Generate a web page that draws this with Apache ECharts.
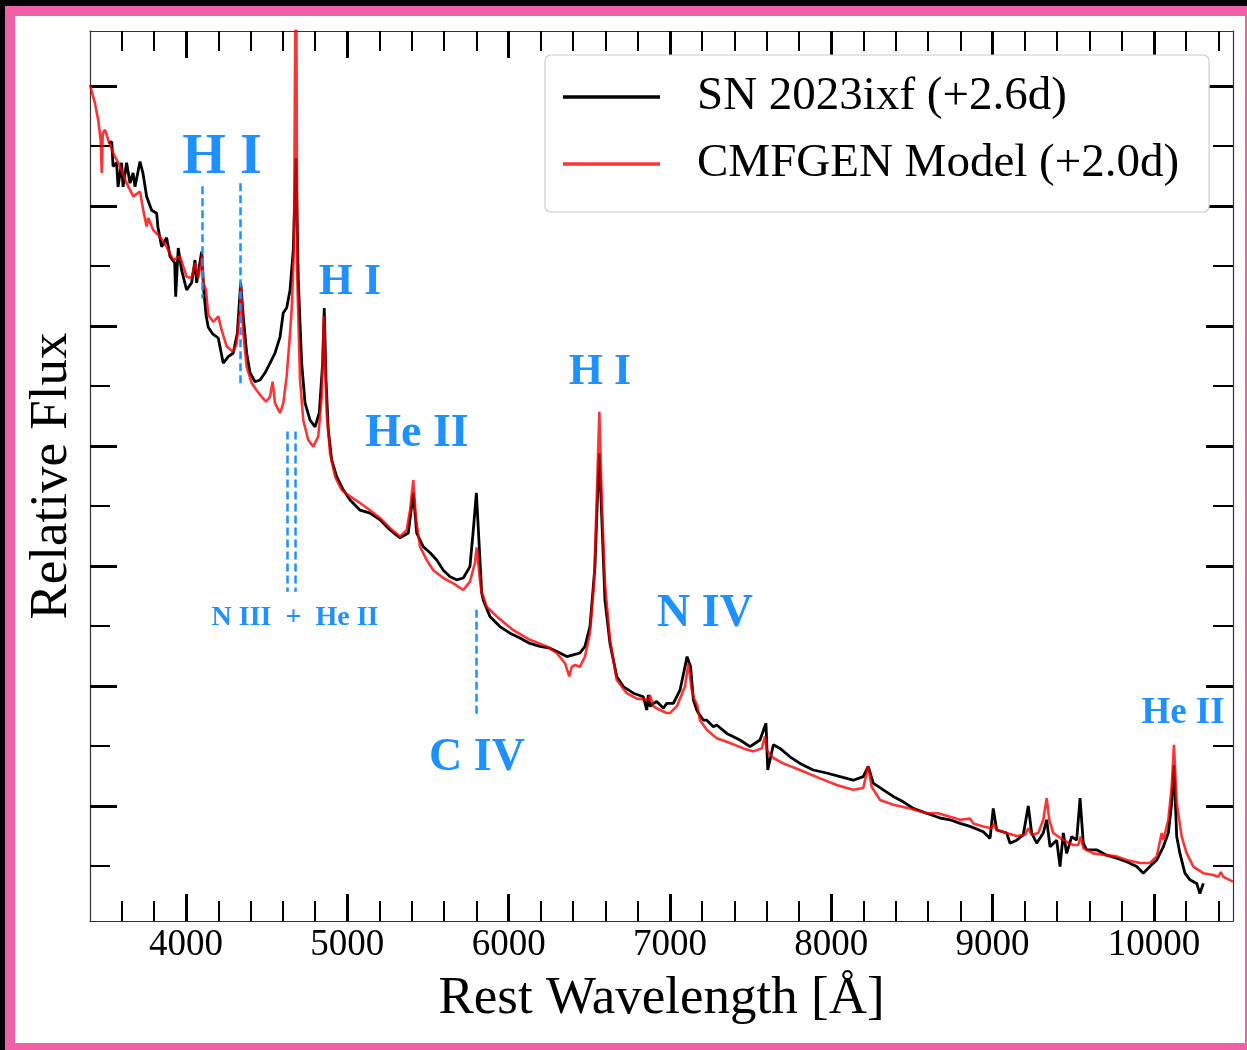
<!DOCTYPE html>
<html>
<head>
<meta charset="utf-8">
<script src="https://cdn.jsdelivr.net/npm/echarts@6/dist/echarts.min.js"></script>
<style>
  html, body { margin:0; padding:0; background:#000; width:1247px; height:1050px; overflow:hidden; }
  #pink { position:absolute; left:5px; top:6px; width:1242px; height:1044px; background:#EF60A6; }
  #paper { position:absolute; left:15px; top:16px; width:1230px; height:1027px; background:#fff; }
  #chart { position:absolute; left:0; top:0; width:1247px; height:1050px; }
</style>
</head>
<body>
<div id="pink"></div>
<div id="paper"></div>
<div id="chart"></div>
<script>
// ---- axis ticks ----
const wavelengthTicks = [4000, 5000, 6000, 7000, 8000, 9000, 10000];
const wavelengthMinorTicks = [3600, 3800, 4200, 4400, 4600, 4800, 5200, 5400, 5600, 5800,
  6200, 6400, 6600, 6800, 7200, 7400, 7600, 7800, 8200, 8400, 8600, 8800,
  9200, 9400, 9600, 9800, 10200, 10400];
const fluxMajorTicks = [1, 3, 5, 7, 9, 11, 13];
const fluxMinorTicks = [0, 2, 4, 6, 8, 10, 12];

// ---- SN 2023ixf (+2.6d) observed spectrum ----
const snWave = [3518,3540,3548,3570,3579,3601,3610,3632,3653,3672,3684,3715,3733,3756,3787,3818,3826,3849,3880,3901,
  3930,3936,3952,3973,4004,4035,4056,4066,4097,4110,4125,4138,4165,4200,4231,4262,4293,4318,4339,4355,
  4376,4397,4428,4459,4490,4521,4552,4583,4603,4624,4645,4665,4682,4696,4717,4738,4769,4800,4826,4847,
  4857,4868,4882,4903,4934,4975,5017,5079,5141,5203,5265,5327,5378,5409,5430,5471,5513,5554,5595,5637,
  5678,5719,5760,5781,5800,5818,5833,5843,5884,5946,6008,6070,6132,6194,6256,6318,6360,6401,6442,6473,
  6504,6535,6550,6562,6577,6597,6628,6670,6711,6773,6835,6856,6866,6876,6897,6918,6959,6980,7021,7062,
  7093,7106,7128,7145,7166,7176,7207,7228,7269,7290,7352,7434,7496,7558,7595,7606,7641,7682,7744,7806,
  7888,7971,8054,8136,8198,8229,8260,8322,8384,8446,8508,8591,8674,8736,8798,8860,8942,8984,9004,9025,
  9087,9108,9149,9190,9221,9242,9273,9314,9335,9356,9397,9418,9438,9459,9490,9521,9542,9562,9583,9645,
  9707,9769,9831,9893,9934,9975,10017,10058,10089,10110,10124,10141,10161,10192,10223,10265,10285,10306];
const snFlux = [12.05,12.07,11.66,11.72,11.32,11.72,11.32,11.72,11.38,11.55,11.32,11.74,11.55,11.16,10.93,10.88,10.65,10.32,10.47,10.16,
  10.05,9.49,10.3,9.93,9.6,9.72,10.1,9.72,10.24,9.6,9.17,8.98,8.87,8.8,8.38,8.49,8.55,8.88,9.72,9.16,
  8.55,8.22,8.07,8.1,8.22,8.38,8.55,8.82,9.22,9.3,9.6,10.27,11.8,9.77,8.38,7.72,7.43,7.32,7.55,8.38,
  9.3,8.1,7.27,6.77,6.49,6.27,6.1,5.93,5.88,5.77,5.6,5.47,5.55,6.22,5.55,5.32,5.22,5.1,4.93,4.82,
  4.77,4.8,4.99,5.6,6.22,5.32,4.55,4.43,4.16,3.99,3.88,3.8,3.71,3.66,3.63,3.55,3.49,3.52,3.55,3.66,
  3.99,4.99,6.1,6.88,5.82,4.43,3.71,3.16,2.99,2.88,2.82,2.6,2.85,2.66,2.71,2.74,2.63,2.71,2.71,2.93,
  3.32,3.49,3.32,2.77,2.6,2.55,2.43,2.43,2.32,2.35,2.21,2.1,1.99,2.1,2.38,1.6,2.02,1.96,1.82,1.71,
  1.6,1.55,1.49,1.43,1.49,1.66,1.38,1.27,1.16,1.07,0.96,0.88,0.8,0.77,0.71,0.66,0.57,0.46,0.96,0.6,
  0.55,0.38,0.43,0.52,1.0,0.55,0.38,0.55,0.77,0.32,0.43,-0.01,0.55,0.21,0.49,0.43,1.13,0.38,0.27,0.27,
  0.18,0.13,0.07,-0.01,-0.12,-0.01,0.1,0.32,0.55,1.05,1.68,0.49,0.21,-0.12,-0.23,-0.29,-0.46,-0.29];

// ---- CMFGEN model (+2.0d) ----
const modelWave = [3405,3436,3456,3471,3478,3484,3498,3518,3549,3591,3632,3673,3715,3735,3756,3766,3797,3839,3880,3921,
  3963,4004,4035,4056,4076,4101,4107,4124,4138,4169,4200,4221,4252,4293,4314,4335,4341,4355,4376,4407,
  4438,4469,4496,4521,4537,4552,4583,4603,4624,4645,4655,4669,4682,4690,4707,4727,4758,4789,4820,4841,
  4855,4872,4893,4924,4965,4986,5017,5079,5141,5203,5265,5327,5368,5389,5409,5426,5451,5492,5533,5595,
  5657,5719,5760,5791,5802,5822,5833,5843,5864,5926,6029,6132,6236,6298,6349,6376,6391,6411,6442,6473,
  6504,6529,6546,6562,6577,6597,6628,6670,6732,6794,6866,6876,6897,6938,6980,7000,7042,7093,7114,7135,
  7150,7169,7186,7228,7290,7372,7455,7517,7569,7589,7600,7641,7702,7806,7930,8033,8136,8198,8229,8250,
  8302,8384,8488,8591,8663,8736,8798,8860,8880,8942,8994,9008,9025,9087,9149,9201,9221,9242,9283,9314,
  9335,9351,9376,9438,9500,9531,9546,9562,9624,9707,9769,9831,9913,9975,10017,10048,10058,10089,10110,10124,
  10141,10172,10203,10244,10306,10368,10399,10415,10430,10490];
const modelFlux = [13.02,12.71,12.43,12.1,11.55,12.21,12.27,12.1,11.88,11.66,11.38,11.16,11.24,10.93,10.66,10.8,10.6,10.49,10.32,10.1,
  10.16,9.82,9.8,10.05,9.8,10.18,9.72,9.6,9.18,9.07,9.16,8.93,8.66,8.57,8.71,9.27,9.66,8.88,8.32,8.05,
  7.93,7.82,7.74,7.82,8.07,7.71,7.55,7.71,8.16,8.88,9.27,10.27,16.0,9.77,8.1,7.43,7.1,6.99,7.16,7.82,
  9.16,7.55,6.88,6.49,6.27,6.22,6.16,6.05,5.93,5.8,5.63,5.49,5.6,5.93,6.43,5.77,5.32,5.1,4.93,4.8,
  4.71,4.6,4.74,5.05,5.31,4.77,4.55,4.49,4.32,4.16,3.93,3.77,3.66,3.55,3.38,3.16,3.32,3.35,3.32,3.49,
  3.88,4.71,6.1,7.57,6.1,4.71,3.77,3.1,2.88,2.79,2.77,2.85,2.66,2.6,2.55,2.55,2.66,2.99,3.38,2.93,
  2.78,2.68,2.43,2.27,2.13,2.05,1.96,1.91,1.96,2.16,1.93,1.8,1.71,1.6,1.46,1.35,1.27,1.3,1.66,1.32,
  1.1,1.02,0.96,0.88,0.88,0.82,0.77,0.79,0.71,0.66,0.63,0.71,0.6,0.55,0.5,0.52,0.63,0.52,0.55,0.77,
  1.13,0.77,0.55,0.43,0.35,0.35,0.49,0.3,0.21,0.18,0.16,0.1,0.05,0.05,0.16,0.55,0.43,0.77,1.32,2.02,
  1.05,0.49,0.21,-0.01,-0.12,-0.15,-0.18,-0.1,-0.18,-0.26];

// ---- line identifications (wavelength, flux range of dashed marker) ----
const idLineWave = [4101, 4336, 4628, 4676, 5802];
const idLineTop = [11.33, 11.38, 7.24, 7.24, 4.27];
const idLineBottom = [9.46, 7.98, 4.57, 4.57, 2.49];

const FONT = '"Liberation Serif", "DejaVu Serif", serif';
const BLUE = '#1E90FF';
const X_MIN = 3405, X_MAX = 10490;
const Y_MIN = -0.9167, Y_MAX = 13.9167;

const snData = snWave.map((w, i) => [w, snFlux[i]]);
const modelData = modelWave.map((w, i) => [w, modelFlux[i]]);
const markLines = idLineWave.map((w, i) => [{ coord: [w, idLineTop[i]] }, { coord: [w, idLineBottom[i]] }]);

function xAx(pos, ticks, major, withLabel) {
  return {
    type: 'value', position: pos, min: X_MIN, max: X_MAX, gridIndex: 0,
    axisLine: { show: major, onZero: false, lineStyle: { color: '#333', width: 1.2 } },
    axisTick: { show: true, inside: true, customValues: ticks, length: major ? 27 : 20,
      lineStyle: { color: '#000', width: major ? 3 : 2 } },
    axisLabel: withLabel ? { show: true, customValues: ticks, margin: 6, color: '#000',
      fontFamily: FONT, fontSize: 37, formatter: (v) => String(v) } : { show: false },
    splitLine: { show: false }, minorTick: { show: false }
  };
}
function yAx(pos, ticks, major) {
  return {
    type: 'value', position: pos, min: Y_MIN, max: Y_MAX, gridIndex: 0,
    axisLine: { show: major, onZero: false, lineStyle: { color: '#333', width: 1.2 } },
    axisTick: { show: true, inside: true, customValues: ticks, length: major ? 27 : 20,
      lineStyle: { color: '#000', width: major ? 3 : 2 } },
    axisLabel: { show: false },
    splitLine: { show: false }
  };
}

const xAxes = [
  xAx('bottom', wavelengthTicks, true, true),
  xAx('bottom', wavelengthMinorTicks, false, false),
  xAx('top', wavelengthTicks, true, false),
  xAx('top', wavelengthMinorTicks, false, false)
];
xAxes[0].name = 'Rest Wavelength [Å]';
xAxes[0].nameLocation = 'middle';
xAxes[0].nameGap = 52;
xAxes[0].nameTextStyle = { fontFamily: FONT, fontSize: 53, color: '#000' };

const yAxes = [
  yAx('left', fluxMajorTicks, true),
  yAx('left', fluxMinorTicks, false),
  yAx('right', fluxMajorTicks, true),
  yAx('right', fluxMinorTicks, false)
];
yAxes[0].name = 'Relative Flux';
yAxes[0].nameLocation = 'middle';
yAxes[0].nameGap = 11;
yAxes[0].nameTextStyle = { fontFamily: FONT, fontSize: 53, color: '#000' };

function label(text, x, y, size) {
  return { type: 'text', x: x, y: y, z: 100, silent: true,
    style: { text: text, fill: BLUE, font: 'bold ' + size + 'px ' + FONT,
      align: 'center', verticalAlign: 'middle', textAlign: 'center', textVerticalAlign: 'middle' } };
}

const chart = echarts.init(document.getElementById('chart'), null, { renderer: 'canvas' });
chart.setOption({
  animation: false,
  backgroundColor: 'transparent',
  grid: { left: 90, top: 31, width: 1143, height: 890, containLabel: false },
  xAxis: xAxes,
  yAxis: yAxes,
  legend: {
    orient: 'vertical', left: 545, top: 55,
    padding: [14, 30, 20, 18], itemGap: 11,
    itemWidth: 97, itemHeight: 3.5,
    backgroundColor: '#fff', borderColor: '#cccccc', borderWidth: 1.2, borderRadius: 6,
    textStyle: { fontFamily: FONT, fontSize: 47, color: '#000', lineHeight: 56, padding: [0, 0, 0, 32] },
    data: [
      { name: 'SN 2023ixf (+2.6d)', icon: 'rect', itemStyle: { color: '#000' } },
      { name: 'CMFGEN Model (+2.0d)', icon: 'rect', itemStyle: { color: 'rgba(255,0,0,0.8)' } }
    ],
    itemStyle: { borderWidth: 0 }
  },
  series: [
    {
      name: 'SN 2023ixf (+2.6d)', type: 'line', data: snData, showSymbol: false, symbol: 'none',
      xAxisIndex: 0, yAxisIndex: 0, clip: true, z: 2,
      lineStyle: { color: '#000', width: 2.8 }, itemStyle: { color: '#000' },
      markLine: {
        silent: true, symbol: ['none', 'none'], animation: false,
        label: { show: false },
        lineStyle: { color: BLUE, width: 2.5, type: [8, 4] },
        emphasis: { disabled: true },
        data: markLines
      }
    },
    {
      name: 'CMFGEN Model (+2.0d)', type: 'line', data: modelData, showSymbol: false, symbol: 'none',
      xAxisIndex: 0, yAxisIndex: 0, clip: true, z: 3,
      lineStyle: { color: 'rgba(255,0,0,0.8)', width: 2.6 }, itemStyle: { color: 'rgba(255,0,0,0.8)' }
    }
  ],
  graphic: [
    label('H I', 222, 159, 56),
    label('H I', 350, 283, 44),
    label('He II', 417, 434, 46),
    label('N III  +  He II', 295, 618, 28),
    label('C IV', 477, 758, 46),
    label('H I', 600, 373, 44),
    label('N IV', 705, 614, 46),
    label('He II', 1183, 713, 37)
  ]
});
</script>
</body>
</html>
